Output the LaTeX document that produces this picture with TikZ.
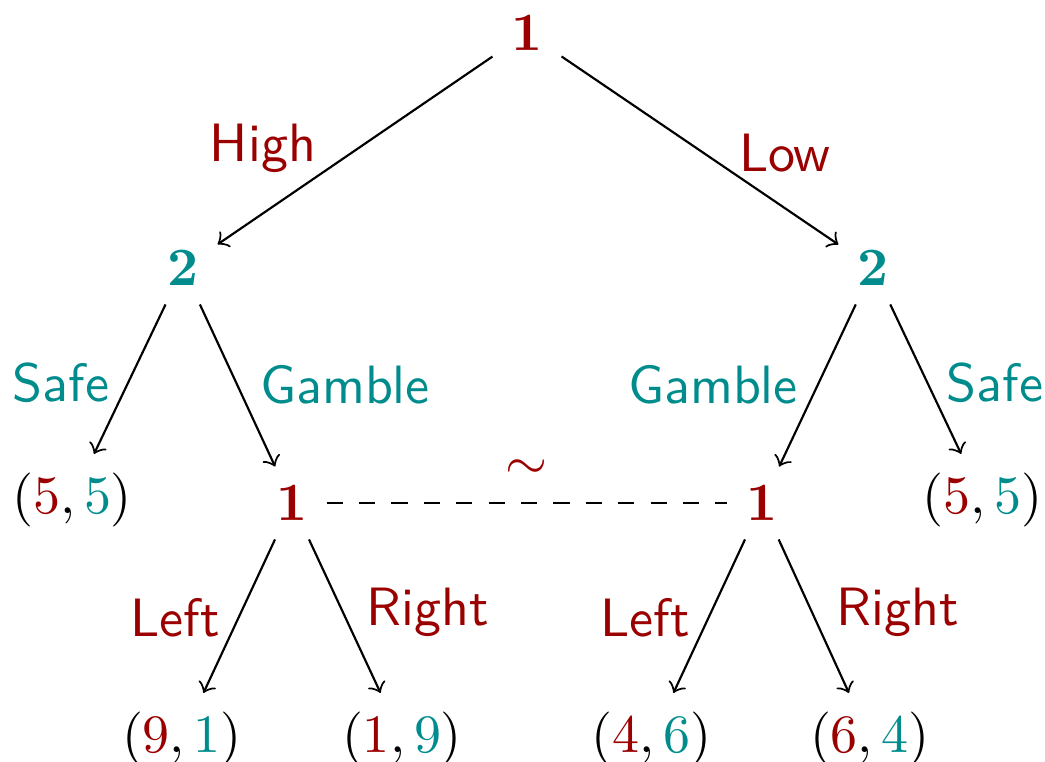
\documentclass[tikz,border=0pt]{standalone}
\usepackage{xcolor}
\definecolor{pone}{RGB}{155,0,0}
\definecolor{ptwo}{RGB}{0,140,140}
\newcommand{\ra}[1]{{\color{pone}#1}}
\newcommand{\rb}[1]{{\color{ptwo}#1}}
\begin{document}
\begin{tikzpicture}[x=0.18519pt,y=-0.18519pt,
  pnode/.style={inner sep=3.33pt},
  leaf/.style={inner sep=3.33pt},
  lab/.style={inner sep=0pt,font=\sffamily},
  labA/.style={lab,text=pone},
  labB/.style={lab,text=ptwo},
  edg/.style={->,line width=0.4pt}]
\useasboundingbox (0,0) rectangle (1045,762);
% decision nodes
\node[pnode] (root) at (527,33) {$\mathbf{\ra{1}}$};
\node[pnode] (a) at (183,268) {$\mathbf{\rb{2}}$};
\node[pnode] (b) at (873,268) {$\mathbf{\rb{2}}$};
\node[pnode] (p) at (292,503) {$\mathbf{\ra{1}}$};
\node[pnode] (q) at (762,503) {$\mathbf{\ra{1}}$};
% leaves
\node[leaf] (l1) at (72,500) {$(\ra{5},\rb{5})$};
\node[leaf] (l2) at (983,500) {$(\ra{5},\rb{5})$};
\node[leaf] (l3) at (182,739) {$(\ra{9},\rb{1})$};
\node[leaf] (l4) at (402,739) {$(\ra{1},\rb{9})$};
\node[leaf] (l5) at (652,739) {$(\ra{4},\rb{6})$};
\node[leaf] (l6) at (870,739) {$(\ra{6},\rb{4})$};
% edges
\draw[edg] (root) -- (a);
\draw[edg] (root) -- (b);
\draw[edg] (a) -- (l1);
\draw[edg] (a) -- (p);
\draw[edg] (b) -- (q);
\draw[edg] (b) -- (l2);
\draw[edg] (p) -- (l3);
\draw[edg] (p) -- (l4);
\draw[edg] (q) -- (l5);
\draw[edg] (q) -- (l6);
\draw[dashed,line width=0.4pt] (p) -- (q);
\node[inner sep=0pt] (tl) at (527,470) {$\ra{\sim}$};
% labels
\node[labA] (hi) at (263,148) {High};
\node[labA] (lo) at (785,153) {Low};
\node[labB] (s1) at (61,383) {Safe};
\node[labB] (g1) at (345,385) {Gamble};
\node[labB] (g2) at (713,385) {Gamble};
\node[labB] (s2) at (995,383) {Safe};
\node[labA] (le1) at (175,618) {Left};
\node[labA] (ri1) at (428,612) {Right};
\node[labA] (le2) at (645,618) {Left};
\node[labA] (ri2) at (898,612) {Right};
\end{tikzpicture}
\end{document}
